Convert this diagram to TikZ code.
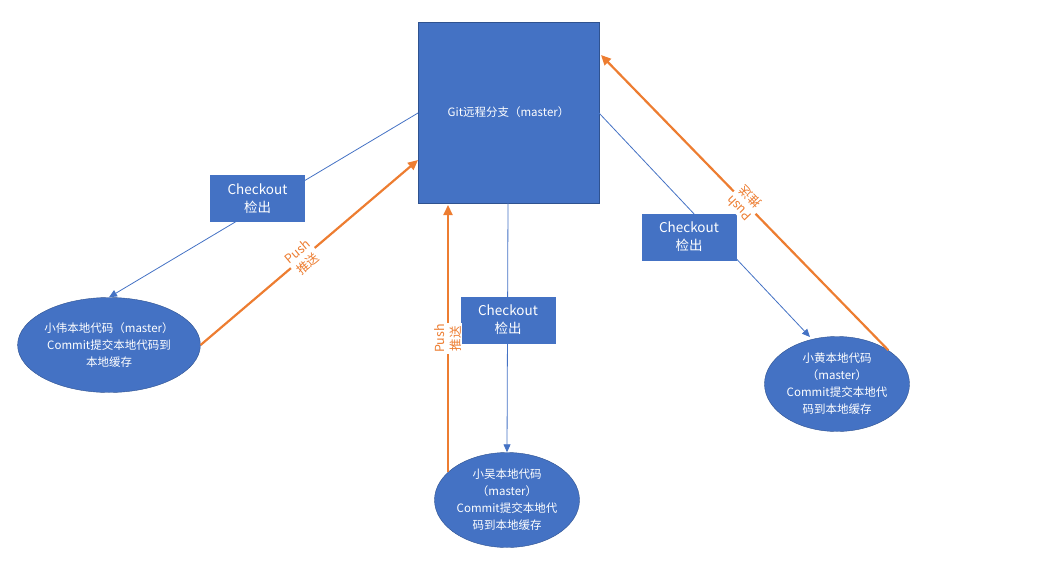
\documentclass[tikz,border=0pt]{standalone}
\usepackage{fontspec}
\setmainfont{Noto Sans CJK SC}
\usetikzlibrary{shapes.geometric,arrows.meta}
\definecolor{bl}{RGB}{68,114,196}
\definecolor{bd}{RGB}{47,82,143}
\definecolor{og}{RGB}{237,125,49}
\tikzset{
 px/.style={x=1pt,y=-1pt},
 ell/.style={ellipse,fill=bl,draw=bd,text=white,align=center,inner sep=0pt,font=\fontsize{11.5}{17}\selectfont},
 cbox/.style={rectangle,fill=bl,text=white,align=center,inner sep=0pt,minimum width=95pt,minimum height=47pt,font=\fontsize{13.5}{18}\selectfont},
 bline/.style={draw=bl,line width=0.8pt,-{Triangle[length=8pt,width=7pt]}},
 oline/.style={draw=og,line width=2.2pt,-{Triangle[length=10pt,width=9pt]}},
 plab/.style={fill=white,text=og,align=center,inner sep=1pt,font=\fontsize{12.5}{16}\selectfont},
}
\begin{document}
\begin{tikzpicture}[px]
\useasboundingbox (0,0) rectangle (1039,568);
\node[rectangle,fill=bl,draw=bd,minimum width=181pt,minimum height=181pt,text=white,font=\fontsize{11.5}{14}\selectfont] (git) at (508.5,112.5) {Git远程分支（master）};
\node[ell,minimum width=182pt,minimum height=95pt] (w) at (109,345) {小伟本地代码（master）\\Commit提交本地代码到\\本地缓存};
\node[ell,minimum width=145pt,minimum height=95pt] (m) at (507,500) {小吴本地代码\\（master）\\Commit提交本地代\\码到本地缓存};
\node[ell,minimum width=145pt,minimum height=95pt] (h) at (837,384) {小黄本地代码\\（master）\\Commit提交本地代\\码到本地缓存};
\coordinate (gL) at (418,113);
\coordinate (gR) at (599,113);
\coordinate (gLb) at (418,160);
\coordinate (gRt) at (601,55);
\coordinate (gB) at (508,203);
\coordinate (gBl) at (448,205);
\coordinate (mst) at (448,472);
\coordinate (hT) at (810,337);
\draw[bline] (gL) -- (w.north);
\draw[bline] (gR) -- (hT);
\draw[bline] (gB) -- (m.north);
\node[cbox] (c1) at (257.5,198.5) {Checkout\\检出};
\node[cbox] (c2) at (508,320) {Checkout\\检出};
\node[cbox] (c3) at (689,237) {Checkout\\检出};
\draw[oline] (w.east) -- node[plab,rotate=40,pos=0.47] {Push\\推送} (gLb);
\draw[oline] (mst) -- node[plab,rotate=90,pos=0.5] {Push\\推送} (gBl);
\draw[oline] (h.north east) -- node[plab,rotate=134,pos=0.5] {Push\\推送} (gRt);
\end{tikzpicture}
\end{document}
